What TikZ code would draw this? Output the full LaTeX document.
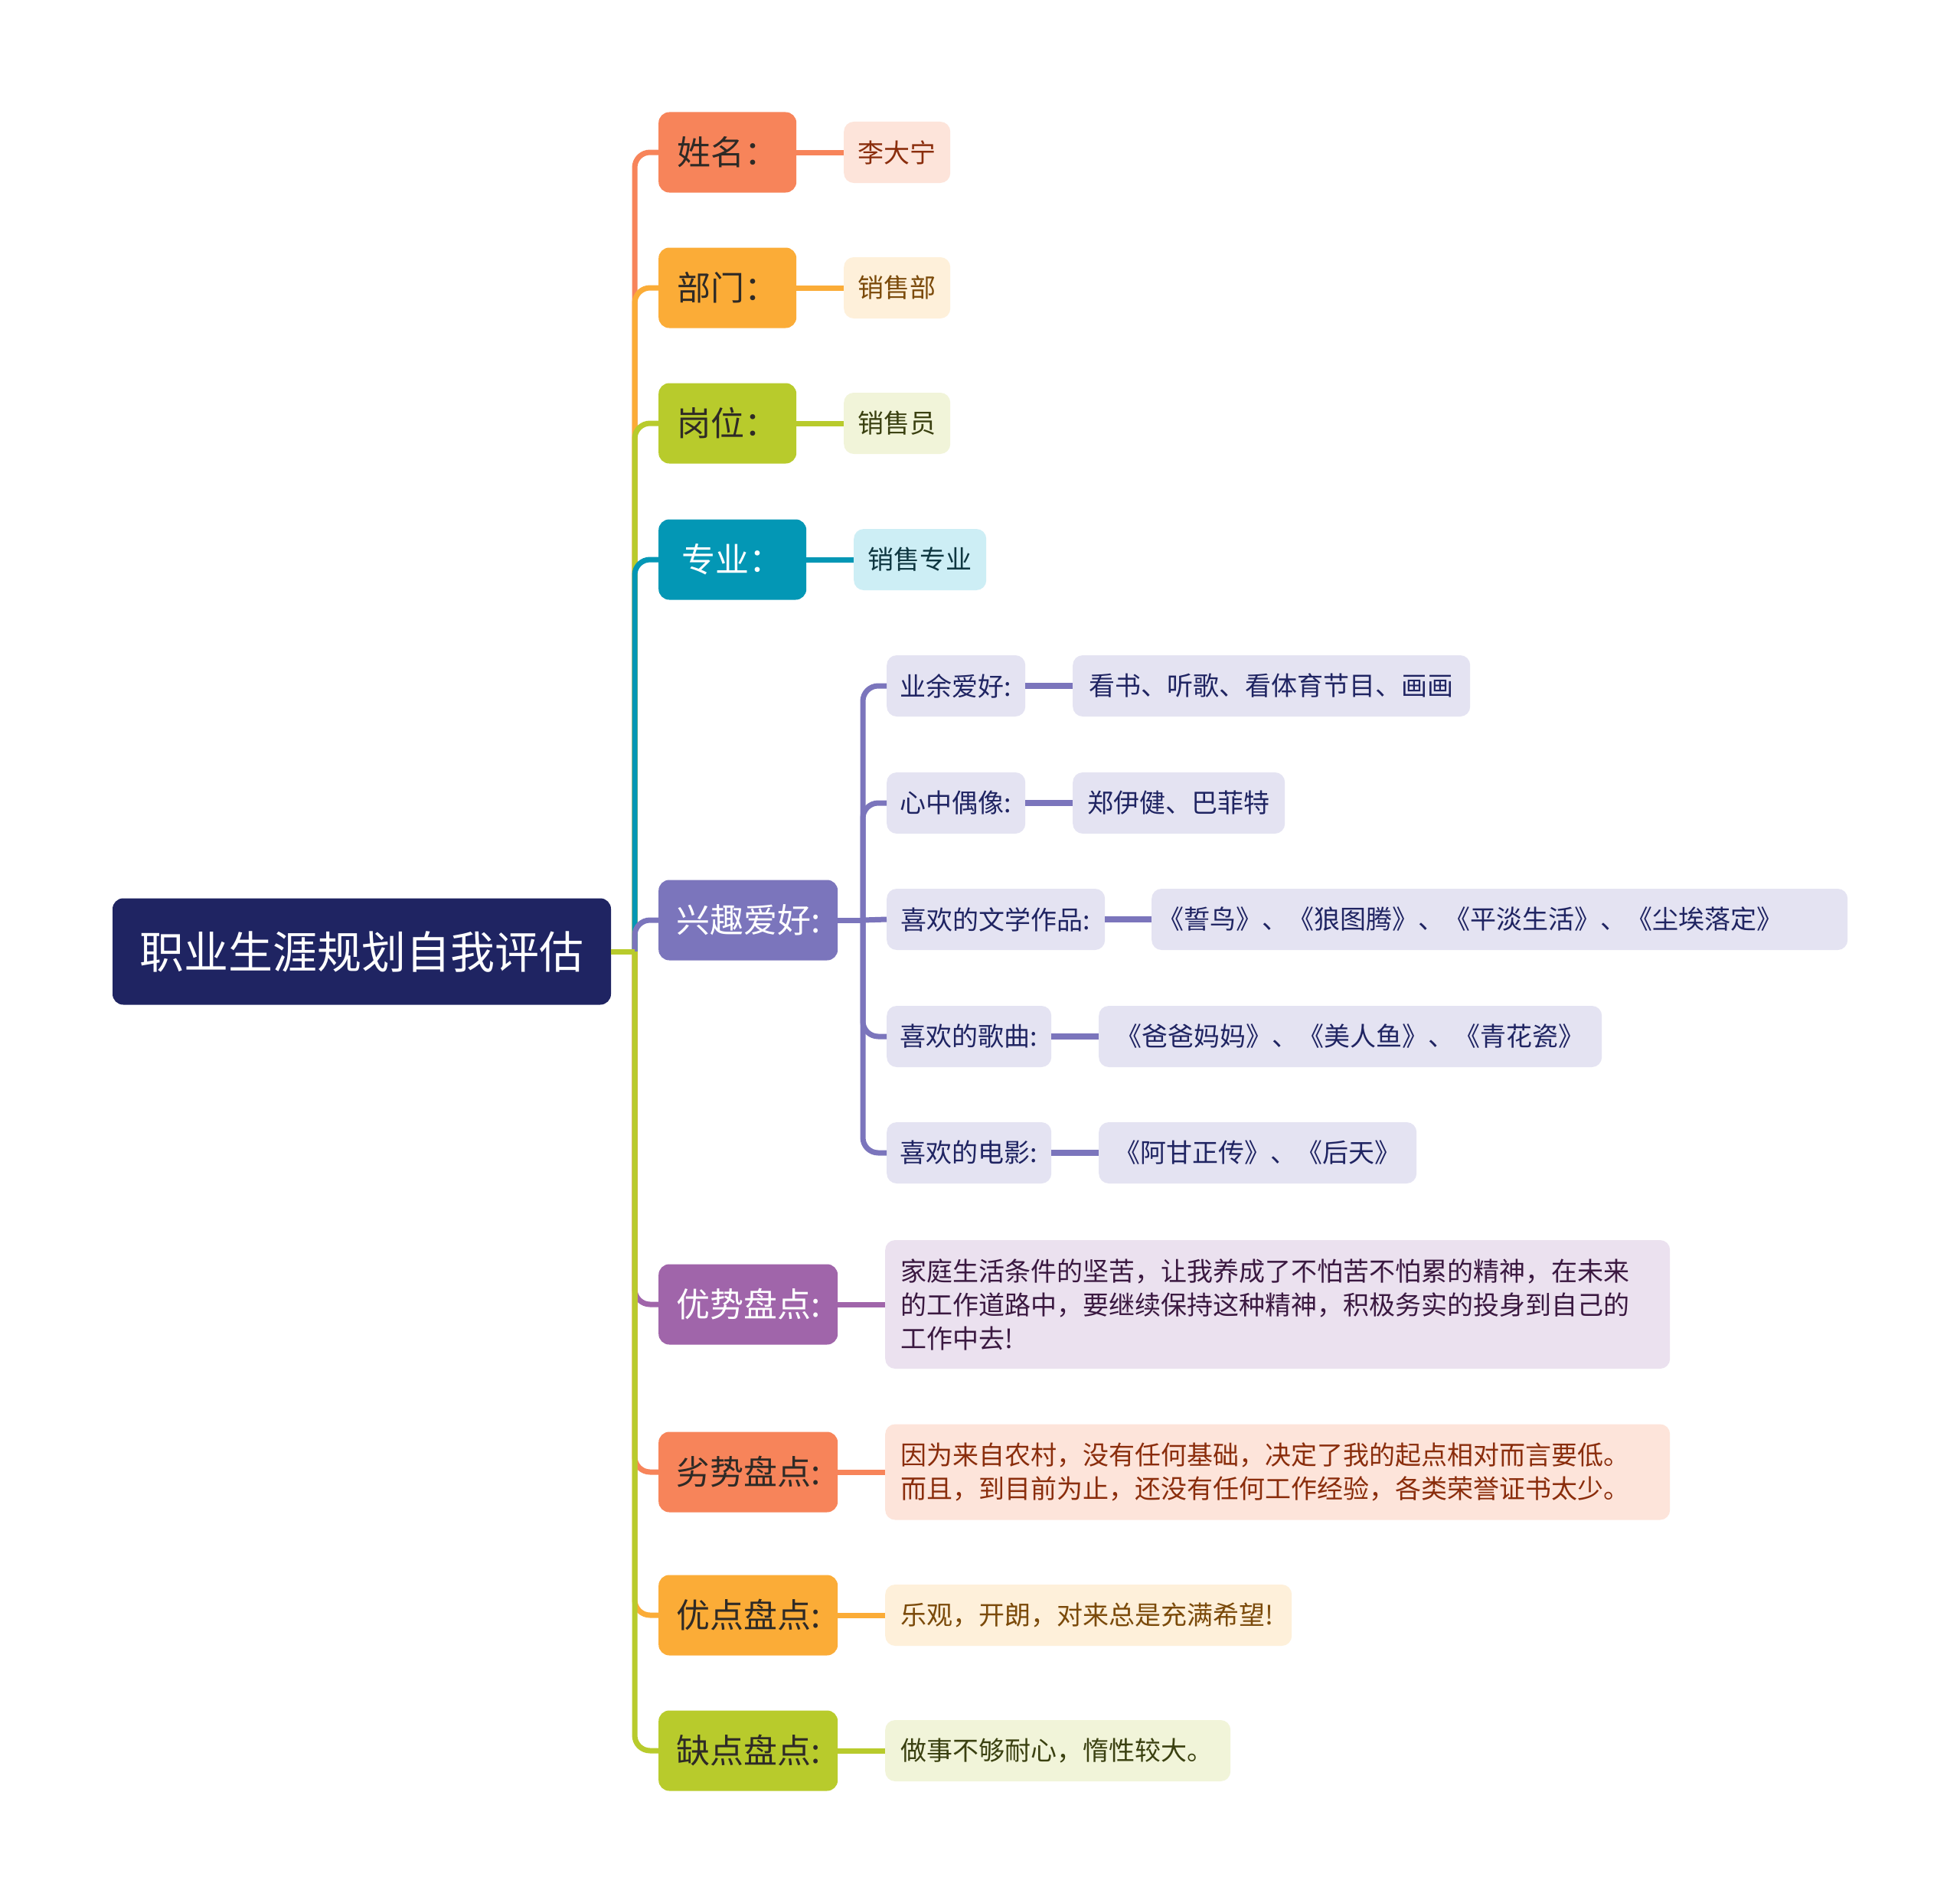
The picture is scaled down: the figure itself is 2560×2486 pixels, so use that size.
\documentclass[tikz,border=0pt]{standalone}
\usepackage{fontspec}
\setmainfont{Noto Sans CJK SC}
\definecolor{cnavy}{HTML}{1F2462}
\definecolor{ccoral}{HTML}{F7845A}
\definecolor{corange}{HTML}{FBAC37}
\definecolor{clime}{HTML}{B8CB2C}
\definecolor{cteal}{HTML}{0397B5}
\definecolor{cviolet}{HTML}{7B75BC}
\definecolor{cpurple}{HTML}{A065AA}
\definecolor{lcoral}{HTML}{FDE4DA}
\definecolor{lorange}{HTML}{FEF0DA}
\definecolor{llime}{HTML}{F1F4D9}
\definecolor{lteal}{HTML}{CDEEF5}
\definecolor{lviolet}{HTML}{E4E3F2}
\definecolor{lpurple}{HTML}{EBE1EF}
\definecolor{tcoral}{HTML}{8A2D0C}
\definecolor{torange}{HTML}{7B4A0A}
\definecolor{tlime}{HTML}{3A4010}
\definecolor{tteal}{HTML}{0E3640}
\definecolor{tpurple}{HTML}{3A1840}
\definecolor{tdark}{HTML}{2E2A26}
\newcommand\fsroot{\fontsize{58}{70}\selectfont}
\newcommand\fsmain{\fontsize{44}{52}\selectfont}
\newcommand\fsleaf{\fontsize{34}{44}\selectfont}
\tikzset{
  rootbox/.style={fill=cnavy, text=white, rounded corners=14pt, inner sep=0pt,
    minimum width=651pt, minimum height=139pt, font=\fsroot},
  mainbox/.style={rounded corners=14pt, inner sep=0pt, minimum height=105pt,
    font=\fsmain, anchor=west, align=center},
  leafbox/.style={rounded corners=13pt, inner sep=0pt, minimum height=80pt,
    font=\fsleaf, anchor=west, align=center},
  longbox/.style={rounded corners=13pt, inner xsep=20pt, inner ysep=0pt,
    font=\fsleaf, anchor=west, align=left},
  conn/.style={line width=7pt, rounded corners=20pt},
}
\begin{document}
\begin{tikzpicture}[x=1pt, y=-1pt]
\useasboundingbox (0,0) rectangle (2560,2486);
\fill[white] (0,0) rectangle (2560,2486);

% root
\node[rootbox] (root) at (472.5,1243) {职业生涯规划自我评估};
\coordinate (hub) at (829,1243);

% level 1
\node[mainbox, fill=ccoral, text=tdark, minimum width=180pt] (name) at (860,199) {姓名：};
\node[mainbox, fill=corange, text=tdark, minimum width=180pt] (dept) at (860,376) {部门：};
\node[mainbox, fill=clime, text=tdark, minimum width=180pt] (post) at (860,553) {岗位：};
\node[mainbox, fill=cteal, text=white, minimum width=193pt] (major) at (860,731) {专业：};
\node[mainbox, fill=cviolet, text=white, minimum width=234pt] (hobby) at (860,1202) {兴趣爱好:};
\node[mainbox, fill=cpurple, text=white, minimum width=234pt] (adv) at (860,1704) {优势盘点:};
\node[mainbox, fill=ccoral, text=tdark, minimum width=234pt] (dis) at (860,1923) {劣势盘点:};
\node[mainbox, fill=corange, text=tdark, minimum width=234pt] (merit) at (860,2110) {优点盘点:};
\node[mainbox, fill=clime, text=tdark, minimum width=234pt] (fault) at (860,2287) {缺点盘点:};

% leaves of level 1
\node[leafbox, fill=lcoral, text=tcoral, minimum width=139pt] (nameV) at (1102,199) {李大宁};
\node[leafbox, fill=lorange, text=torange, minimum width=139pt] (deptV) at (1102,376) {销售部};
\node[leafbox, fill=llime, text=tlime, minimum width=139pt] (postV) at (1102,553) {销售员};
\node[leafbox, fill=lteal, text=tteal, minimum width=173pt] (majorV) at (1115,731) {销售专业};

% hobby sub nodes
\coordinate (hhub) at (1127,1202);
\node[leafbox, fill=lviolet, text=cnavy, minimum width=181pt] (h1) at (1158,896) {业余爱好:};
\node[leafbox, fill=lviolet, text=cnavy, minimum width=181pt] (h2) at (1158,1049) {心中偶像:};
\node[leafbox, fill=lviolet, text=cnavy, minimum width=285pt] (h3) at (1158,1201) {喜欢的文学作品:};
\node[leafbox, fill=lviolet, text=cnavy, minimum width=215pt] (h4) at (1158,1354) {喜欢的歌曲:};
\node[leafbox, fill=lviolet, text=cnavy, minimum width=215pt] (h5) at (1158,1506) {喜欢的电影:};

\node[leafbox, fill=lviolet, text=cnavy, minimum width=519pt] (h1v) at (1401,896) {看书、听歌、看体育节目、画画};
\node[leafbox, fill=lviolet, text=cnavy, minimum width=277pt] (h2v) at (1401,1049) {郑伊健、巴菲特};
\node[leafbox, fill=lviolet, text=cnavy, minimum width=909pt, inner xsep=8pt, text width=893pt, align=left] (h3v) at (1504,1201) {《誓鸟》、《狼图腾》、《平淡生活》、《尘埃落定》};
\node[leafbox, fill=lviolet, text=cnavy, minimum width=657pt] (h4v) at (1435,1354) {《爸爸妈妈》、《美人鱼》、《青花瓷》};
\node[leafbox, fill=lviolet, text=cnavy, minimum width=415pt] (h5v) at (1435,1506) {《阿甘正传》、《后天》};

% long text leaves
\node[longbox, fill=lpurple, text=tpurple, text width=985pt, minimum height=168pt] (advV) at (1156,1704)
  {家庭生活条件的坚苦，让我养成了不怕苦不怕累的精神，在未来\\的工作道路中，要继续保持这种精神，积极务实的投身到自己的\\工作中去!};
\node[longbox, fill=lcoral, text=tcoral, text width=985pt, minimum height=125pt] (disV) at (1156,1923)
  {因为来自农村，没有任何基础，决定了我的起点相对而言要低。\\而且，到目前为止，还没有任何工作经验，各类荣誉证书太少。};
\node[longbox, fill=lorange, text=torange, text width=491pt, minimum height=80pt] (meritV) at (1156,2110)
  {乐观，开朗，对来总是充满希望!};
\node[longbox, fill=llime, text=tlime, text width=411pt, minimum height=80pt] (faultV) at (1156,2287)
  {做事不够耐心，惰性较大。};

% trunk connectors (drawn so later ones overlay)
\draw[conn, ccoral] (hub) |- (name.west);
\draw[conn, corange] (hub) |- (dept.west);
\draw[conn, clime] (hub) |- (post.west);
\draw[conn, cteal] (hub) |- (major.west);
\draw[conn, cviolet] (hub) |- (hobby.west);
\draw[conn, cpurple] (hub) |- (adv.west);
\draw[conn, ccoral] (hub) |- (dis.west);
\draw[conn, corange] (hub) |- (merit.west);
\draw[conn, clime] (hub) |- (fault.west);
\draw[conn, clime] (root.east) -- (hub);

% level1 to leaves
\draw[conn, ccoral] (name.east) -- (nameV.west);
\draw[conn, corange] (dept.east) -- (deptV.west);
\draw[conn, clime] (post.east) -- (postV.west);
\draw[conn, cteal] (major.east) -- (majorV.west);
\draw[conn, cpurple] (adv.east) -- (advV.west);
\draw[conn, ccoral] (dis.east) -- (disV.west);
\draw[conn, corange] (merit.east) -- (meritV.west);
\draw[conn, clime] (fault.east) -- (faultV.west);

% hobby connectors
\draw[conn, cviolet] (hobby.east) -- (hhub);
\draw[conn, cviolet] (hhub) |- (h1.west);
\draw[conn, cviolet] (hhub) |- (h2.west);
\draw[conn, cviolet] (hhub) -- (h3.west);
\draw[conn, cviolet] (hhub) |- (h4.west);
\draw[conn, cviolet] (hhub) |- (h5.west);
\draw[conn, cviolet, line width=8pt] (h1.east) -- (h1v.west);
\draw[conn, cviolet, line width=8pt] (h2.east) -- (h2v.west);
\draw[conn, cviolet, line width=8pt] (h3.east) -- (h3v.west);
\draw[conn, cviolet, line width=8pt] (h4.east) -- (h4v.west);
\draw[conn, cviolet, line width=8pt] (h5.east) -- (h5v.west);
\end{tikzpicture}
\end{document}
